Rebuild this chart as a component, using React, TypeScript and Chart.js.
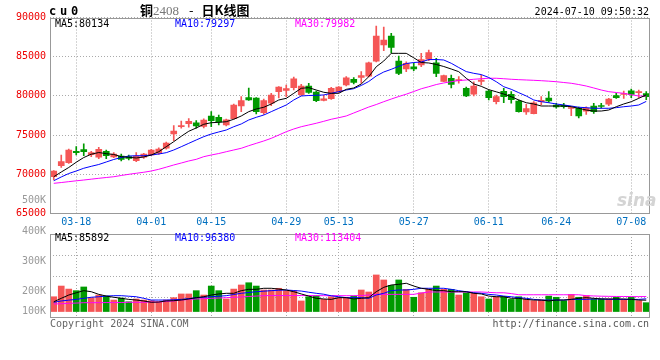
import React, { useEffect, useRef } from 'react';
import { Chart, registerables } from 'chart.js';

Chart.register(...registerables);

// ---------------- data ----------------
const dates = [
  '03-13', '03-14', '03-15', '03-18', '03-19', '03-20', '03-21', '03-22', '03-25', '03-26',
  '03-27', '03-28', '03-29', '04-01', '04-02', '04-03', '04-08', '04-09', '04-10', '04-11',
  '04-12', '04-15', '04-16', '04-17', '04-18', '04-19', '04-22', '04-23', '04-24', '04-25',
  '04-26', '04-29', '04-30', '05-06', '05-07', '05-08', '05-09', '05-10', '05-13', '05-14',
  '05-15', '05-16', '05-17', '05-20', '05-21', '05-22', '05-23', '05-24', '05-27', '05-28',
  '05-29', '05-30', '05-31', '06-03', '06-04', '06-05', '06-06', '06-07', '06-11', '06-12',
  '06-13', '06-14', '06-17', '06-18', '06-19', '06-20', '06-21', '06-24', '06-25', '06-26',
  '06-27', '06-28', '07-01', '07-02', '07-03', '07-04', '07-05', '07-08', '07-09', '07-10',
];
const tickDates = ['03-18', '04-01', '04-15', '04-29', '05-13', '05-27', '06-11', '06-24', '07-08'];

const opens = [
  69690, 71100, 71480, 72930, 73140, 72500, 72170, 72930, 72210, 72330,
  72250, 71740, 72170, 72460, 72680, 73320, 75140, 76070, 76450, 76580,
  76120, 77440, 77270, 76290, 77090, 78710, 79770, 79710, 77860, 79060,
  80540, 80690, 81050, 80170, 81260, 80500, 79410, 79660, 80540, 81390,
  82120, 82350, 82510, 84430, 86490, 87640, 84450, 83430, 83720, 83940,
  84680, 84230, 81860, 82250, 81940, 80970, 80220, 81840, 80630, 79260,
  80590, 80200, 79350, 77950, 77730, 79260, 79730, 78840, 78810, 78390,
  78420, 78040, 78710, 78740, 78930, 80030, 80180, 80660, 80410, 80310,
];
const highs = [
  70490, 72460, 73230, 73520, 73900, 72930, 73440, 73100, 72760, 72590,
  72460, 72760, 72680, 73190, 73390, 74120, 76200, 76800, 77120, 76840,
  77090, 77990, 77560, 77050, 78970, 79900, 81010, 79770, 79600, 80330,
  81200, 81390, 82410, 81480, 81610, 80630, 80120, 81100, 81200, 82450,
  82350, 83090, 84320, 88920, 88790, 87990, 85090, 84360, 84160, 85430,
  85850, 84800, 82670, 82670, 82450, 81140, 81810, 82670, 80750, 80120,
  80970, 80540, 79480, 78930, 79260, 79900, 80540, 79060, 79060, 78620,
  78580, 78620, 79060, 79060, 79690, 80330, 80630, 80880, 80750, 80540,
];
const lows = [
  69270, 70890, 71400, 72460, 72370, 72250, 71990, 71990, 72120, 71700,
  71820, 71610, 72040, 72370, 72550, 73190, 74290, 75870, 76000, 75870,
  75910, 76070, 76290, 76160, 77020, 77990, 79410, 77690, 77650, 78750,
  79730, 79900, 80750, 80030, 80330, 79260, 79350, 79540, 80410, 81260,
  81520, 81610, 82410, 84320, 85770, 85470, 82700, 83090, 83210, 83720,
  84490, 82450, 81810, 81010, 81610, 79900, 79990, 81390, 79480, 78970,
  79130, 79060, 77910, 77650, 77690, 78840, 79180, 78420, 78420, 77480,
  77180, 77650, 77780, 78420, 78750, 79690, 79690, 79770, 79770, 79520,
];
const closes = [
  70420, 71610, 73100, 72760, 72880, 72760, 73190, 72370, 72590, 71910,
  72040, 72330, 72590, 73100, 73230, 73990, 75520, 76200, 76770, 76160,
  76930, 76840, 76670, 76960, 78840, 79390, 79500, 77990, 79390, 80120,
  81140, 80920, 82190, 81260, 80430, 79380, 79640, 80970, 81140, 82320,
  81710, 82580, 84230, 87640, 87130, 86170, 82880, 84160, 83430, 84640,
  85510, 82880, 82580, 81450, 82090, 79990, 81260, 82030, 79770, 79900,
  79900, 79520, 77990, 78370, 79130, 79440, 79350, 78610, 78620, 78500,
  77440, 78420, 77990, 78650, 79600, 79770, 80310, 80200, 80540, 79890,
];

const ma5 = [
  69690, 70290, 70870, 71540, 72140, 72560, 72780, 72630, 72530, 72250,
  72170, 72080, 72210, 72460, 72880, 73520, 74160, 74850, 75490, 75910,
  76380, 76580, 76630, 76710, 77020, 77440, 77990, 78330, 78550, 78970,
  79480, 79690, 80330, 80970, 81050, 80750, 80460, 80330, 80330, 80840,
  81010, 81520, 82450, 83720, 84450, 85430, 85430, 85430, 84860, 84260,
  84200, 84010, 83750, 83430, 83090, 82250, 81520, 81220, 80800, 80520,
  80240, 79900, 79480, 79130, 78970, 78710, 78710, 78710, 78710, 78620,
  78420, 78200, 78070, 78070, 78200, 78620, 78970, 79260, 79690, 80134,
];
const ma10 = [
  69180, 69660, 70100, 70420, 70770, 71020, 71250, 71570, 71890, 72140,
  72330, 72370, 72370, 72460, 72590, 72760, 73100, 73520, 73950, 74380,
  74800, 75140, 75400, 75650, 76070, 76420, 76930, 77270, 77560, 77990,
  78420, 78840, 79480, 79990, 80050, 80080, 80120, 80330, 80540, 80750,
  80920, 81330, 81840, 82540, 83050, 83390, 83780, 84130, 84260, 84320,
  84630, 84640, 84580, 84160, 83620, 83100, 82880, 82720, 82350, 81810,
  81170, 80840, 80410, 79990, 79480, 79260, 79130, 78970, 78840, 78710,
  78550, 78500, 78420, 78420, 78420, 78500, 78620, 78710, 78840, 79297,
];
const ma30 = [
  68850, 68950, 69060, 69170, 69270, 69380, 69490, 69590, 69690, 69850,
  70000, 70130, 70260, 70420, 70640, 70910, 71190, 71440, 71700, 71910,
  72250, 72460, 72650, 72880, 73100, 73320, 73650, 73950, 74250, 74590,
  75010, 75430, 75780, 76070, 76290, 76510, 76760, 77020, 77220, 77440,
  77820, 78200, 78580, 78900, 79260, 79600, 79920, 80220, 80560, 80910,
  81170, 81450, 81650, 81810, 81960, 82030, 82120, 82190, 82250, 82250,
  82190, 82120, 82070, 82030, 81990, 81940, 81880, 81810, 81710, 81610,
  81450, 81260, 81010, 80750, 80540, 80430, 80330, 80150, 79990, 79982,
];

const volumes = [
  112000, 193000, 170000, 158000, 186000, 105000, 125000, 117000, 87000, 102000,
  74000, 95000, 87000, 82000, 74000, 87000, 105000, 133000, 133000, 158000,
  125000, 193000, 158000, 95000, 170000, 201000, 218000, 193000, 163000, 163000,
  176000, 158000, 158000, 80000, 112000, 120000, 92000, 112000, 105000, 105000,
  117000, 163000, 148000, 277000, 239000, 198000, 239000, 168000, 108000, 142000,
  168000, 193000, 168000, 168000, 125000, 142000, 138000, 112000, 95000, 112000,
  112000, 92000, 112000, 92000, 82000, 87000, 117000, 108000, 82000, 130000,
  108000, 120000, 95000, 95000, 95000, 108000, 92000, 108000, 82000, 67000,
];
const volMa5 = [
  74000, 100000, 125000, 142000, 158000, 150000, 130000, 117000, 108000, 100000,
  92000, 87000, 80000, 70000, 72000, 80000, 82000, 87000, 95000, 105000,
  112000, 125000, 133000, 138000, 138000, 158000, 168000, 168000, 176000, 176000,
  170000, 163000, 150000, 133000, 117000, 100000, 95000, 92000, 105000, 105000,
  95000, 100000, 105000, 150000, 183000, 201000, 206000, 214000, 193000, 176000,
  168000, 158000, 158000, 150000, 150000, 150000, 138000, 133000, 117000, 112000,
  112000, 100000, 100000, 92000, 87000, 87000, 80000, 87000, 87000, 92000,
  100000, 105000, 100000, 95000, 95000, 95000, 95000, 92000, 87000, 85892,
];
const volMa10 = [
  70000, 80000, 86000, 92000, 100000, 108000, 112000, 117000, 120000, 120000,
  116000, 112000, 100000, 87000, 87000, 87000, 89000, 92000, 98000, 105000,
  108000, 112000, 116000, 120000, 129000, 138000, 144000, 150000, 154000, 158000,
  161000, 163000, 159000, 155000, 146000, 138000, 131000, 119000, 112000, 105000,
  105000, 105000, 100000, 125000, 138000, 158000, 163000, 163000, 168000, 176000,
  176000, 176000, 176000, 168000, 158000, 150000, 142000, 138000, 130000, 125000,
  117000, 112000, 105000, 100000, 92000, 87000, 87000, 87000, 87000, 92000,
  92000, 92000, 95000, 95000, 92000, 92000, 92000, 92000, 92000, 96380,
];
const volMa30 = [
  57000, 59000, 62000, 64000, 67000, 67000, 67000, 68000, 68000, 68000,
  70000, 70000, 70000, 72000, 72000, 76000, 80000, 87000, 91000, 95000,
  97000, 100000, 102000, 105000, 108000, 110000, 114000, 117000, 120000, 121000,
  121000, 121000, 121000, 121000, 121000, 120000, 120000, 120000, 120000, 120000,
  120000, 121000, 125000, 130000, 130000, 130000, 130000, 130000, 130000, 140000,
  148000, 148000, 148000, 148000, 148000, 148000, 148000, 148000, 145000, 142000,
  142000, 136000, 127000, 127000, 127000, 127000, 127000, 127000, 127000, 127000,
  127000, 120000, 118000, 116000, 115000, 114000, 114000, 113000, 113000, 113404,
];

const priceTicks = [65000, 70000, 75000, 80000, 85000, 90000];
const volTickLabels = ['500K', '400K', '300K', '200K', '100K'];
const volGridLevels = [110000, 269000, 428000];

// ---------------- style ----------------
const FONT = "'DejaVu Sans Mono', monospace";
const RED = '#f55656';
const GREEN = '#009a00';
const GRID = '#aaaaaa';
const FRAME = '#999999';
const C5 = '#000000';
const C10 = '#0000ff';
const C30 = '#ff00ff';

const candleColors = closes.map((c, i) => (c >= opens[i] ? RED : GREEN));
const isTick = (i: number) => tickDates.includes(dates[i]);

const framePlugin = {
  id: 'frame',
  afterDraw(chart: any) {
    const { ctx, chartArea: a } = chart;
    ctx.save();
    ctx.strokeStyle = FRAME;
    ctx.lineWidth = 1;
    const l = Math.round(a.left) + 0.5;
    const t = Math.round(a.top) + 0.5;
    const r = Math.round(a.right) - 0.5;
    const b = Math.round(a.bottom) - 0.5;
    ctx.strokeRect(l, t, r - l, b - t);
    ctx.restore();
  },
};

const lineDs = (data: number[], color: string) => ({
  type: 'line' as const,
  data,
  borderColor: color,
  backgroundColor: color,
  borderWidth: 1,
  pointRadius: 0,
  tension: 0,
  order: 0,
});

const xScale = (showLabels: boolean, height: number) => ({
  type: 'category' as const,
  offset: true,
  grid: {
    offset: false,
    drawTicks: false,
    color: (ctx: any) => (isTick(ctx.index) ? GRID : 'rgba(0,0,0,0)'),
  },
  border: { display: false, dash: [1, 2] },
  ticks: {
    display: showLabels,
    autoSkip: false,
    maxRotation: 0,
    minRotation: 0,
    padding: 3,
    color: '#0070c0',
    font: { family: FONT, size: 10 },
    callback: (_v: any, i: number) => (isTick(i) ? dates[i] : ''),
  },
  afterFit: (s: any) => {
    s.height = height;
  },
});

function PriceChart() {
  const ref = useRef<HTMLCanvasElement>(null);
  useEffect(() => {
    const chart = new Chart(ref.current!, {
      type: 'bar',
      data: {
        labels: dates,
        datasets: [
          lineDs(ma5, C5),
          lineDs(ma10, C10),
          lineDs(ma30, C30),
          {
            type: 'bar',
            data: opens.map((o, i) => [o, closes[i]]),
            backgroundColor: candleColors,
            barThickness: 6,
            grouped: false,
            minBarLength: 1,
            order: 1,
          } as any,
          {
            type: 'bar',
            data: lows.map((l, i) => [l, highs[i]]),
            backgroundColor: candleColors,
            barThickness: 1,
            grouped: false,
            order: 2,
          } as any,
        ],
      },
      options: {
        animation: false,
        responsive: false,
        maintainAspectRatio: false,
        layout: { padding: { left: 0, right: 10, top: 17.5, bottom: 0 } },
        plugins: { legend: { display: false }, tooltip: { enabled: false } },
        scales: {
          x: xScale(true, 16.5) as any,
          y: {
            type: 'linear',
            min: 65000,
            max: 90000,
            afterBuildTicks: (s: any) => {
              s.ticks = priceTicks.map((v) => ({ value: v }));
            },
            grid: { color: GRID, drawTicks: false },
            border: { display: false, dash: [1, 2] },
            ticks: {
              color: '#ee0000',
              padding: 4,
              font: { family: FONT, size: 10 },
              callback: (v: any) => String(v),
            },
            afterFit: (s: any) => {
              s.width = 50;
            },
          } as any,
        },
      },
      plugins: [framePlugin],
    });
    return () => chart.destroy();
  }, []);
  return (
    <canvas
      ref={ref}
      width={660}
      height={230}
      style={{ position: 'absolute', left: 0, top: 0, width: 660, height: 230 }}
    />
  );
}

function VolumeChart() {
  const ref = useRef<HTMLCanvasElement>(null);
  useEffect(() => {
    const chart = new Chart(ref.current!, {
      type: 'bar',
      data: {
        labels: dates,
        datasets: [
          lineDs(volMa5, C5),
          lineDs(volMa10, C10),
          lineDs(volMa30, C30),
          {
            type: 'bar',
            data: volumes,
            backgroundColor: candleColors,
            barThickness: 6,
            grouped: false,
            order: 1,
          } as any,
        ],
      },
      options: {
        animation: false,
        responsive: false,
        maintainAspectRatio: false,
        layout: { padding: { left: 0, right: 10, top: 6, bottom: 2 } },
        plugins: { legend: { display: false }, tooltip: { enabled: false } },
        scales: {
          x: xScale(false, 0) as any,
          y: {
            type: 'linear',
            min: -49000,
            max: 587000,
            afterBuildTicks: (s: any) => {
              s.ticks = volGridLevels.map((v) => ({ value: v }));
            },
            grid: { color: GRID, drawTicks: false },
            border: { display: false, dash: [1, 2] },
            ticks: { display: false },
            afterFit: (s: any) => {
              s.width = 50;
            },
          } as any,
        },
      },
      plugins: [framePlugin],
    });
    return () => chart.destroy();
  }, []);
  return (
    <canvas
      ref={ref}
      width={660}
      height={92}
      style={{ position: 'absolute', left: 0, top: 228, width: 660, height: 92 }}
    />
  );
}

type TProps = {
  x: number;
  y: number;
  text: string;
  color?: string;
  size?: number;
  align?: 'left' | 'right';
  weight?: any;
  family?: string;
  extra?: React.CSSProperties;
};
const T = ({ x, y, text, color = '#000', size = 10, align = 'left', weight = 'normal', family = FONT, extra }: TProps) => (
  <div
    style={{
      position: 'absolute',
      left: align === 'left' ? x : undefined,
      right: align === 'right' ? 660 - x : undefined,
      top: y - size * 0.6,
      fontFamily: family,
      fontSize: size,
      lineHeight: `${size * 1.2}px`,
      color,
      fontWeight: weight,
      whiteSpace: 'nowrap',
      ...extra,
    }}
  >
    {text}
  </div>
);

const fmt = (v: number) => String(Math.round(v));
const last = (a: number[]) => a[a.length - 1];
const volLabelY = [200, 230.7, 261, 290.7, 310.7];

export default function App() {
  return (
    <div
      style={{
        position: 'fixed',
        left: 0,
        top: 0,
        width: 660,
        height: 360,
        background: '#fff',
        overflow: 'hidden',
      }}
    >
      <PriceChart />
      <VolumeChart />
      {/* header */}
      <T x={49} y={11.5} text="cu0" size={12} weight="bold" extra={{ letterSpacing: '3.8px' }} />
      <div
        style={{
          position: 'absolute',
          left: 140,
          top: 1,
          fontSize: 13,
          lineHeight: '17px',
          whiteSpace: 'nowrap',
          fontFamily: "'Noto Sans CJK SC', sans-serif",
          fontWeight: 'bold',
          color: '#000',
        }}
      >
        <span>铜</span>
        <span style={{ color: '#777', fontWeight: 'normal', fontFamily: "'Liberation Serif', serif", fontSize: 13 }}>2408</span>
        <span style={{ marginLeft: 10, fontWeight: 'normal' }}>-</span>
        <span style={{ marginLeft: 8 }}>日K线图</span>
      </div>
      <T x={649} y={12} text="2024-07-10 09:50:32" align="right" />
      {/* MA legends */}
      <T x={55} y={24} text={`MA5:${fmt(last(ma5))}`} color={C5} />
      <T x={175} y={24} text={`MA10:${fmt(last(ma10))}`} color={C10} />
      <T x={295} y={24} text={`MA30:${fmt(last(ma30))}`} color={C30} />
      <T x={55} y={238.3} text={`MA5:${fmt(last(volMa5))}`} color={C5} />
      <T x={175} y={238.3} text={`MA10:${fmt(last(volMa10))}`} color={C10} />
      <T x={295} y={238.3} text={`MA30:${fmt(last(volMa30))}`} color={C30} />
      {/* volume axis labels */}
      {volTickLabels.map((s, i) => (
        <T key={s} x={46} y={volLabelY[i]} text={s} align="right" color="#999" />
      ))}
      {/* watermark */}
      <T
        x={617}
        y={200}
        text="sina"
        size={17}
        color="#d4d4d4"
        weight="bold"
        family="'DejaVu Sans', sans-serif"
        extra={{ fontStyle: 'italic' }}
      />
      {/* footer */}
      <T x={50} y={324} text="Copyright 2024 SINA.COM" color="#666" />
      <T x={649} y={324} text="http://finance.sina.com.cn" color="#555" align="right" />
    </div>
  );
}
